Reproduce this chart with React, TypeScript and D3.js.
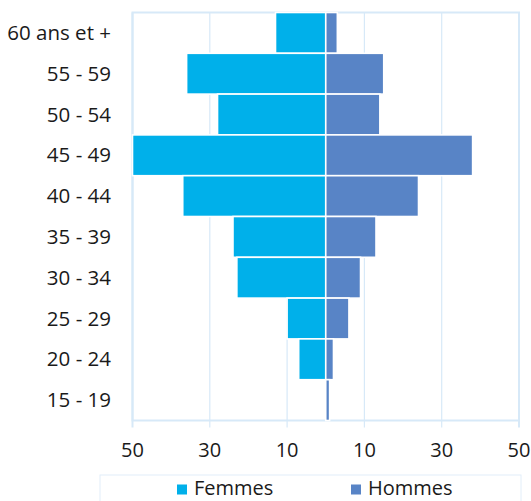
import React from "react";
import * as d3 from "d3";

// Age groups, top to bottom
const ageGroups = [
  "60 ans et +",
  "55 - 59",
  "50 - 54",
  "45 - 49",
  "40 - 44",
  "35 - 39",
  "30 - 34",
  "25 - 29",
  "20 - 24",
  "15 - 19",
];

// Values per age group
const femmes = [13, 36, 28, 50, 37, 24, 23, 10, 7, 0];
const hommes = [3, 15, 14, 38, 24, 13, 9, 6, 2, 1];

// Axis ticks (signed positions, labels shown as absolute values)
const xTicks = [-50, -30, -10, 10, 30, 50];

const seriesNames = ["Femmes", "Hommes"];
const seriesColors = ["#00B0EA", "#5884C6"];

const WIDTH = 531;
const HEIGHT = 501;
const FONT = "'Open Sans', 'Noto Sans', sans-serif";
const GRID = "#D7E9F8";
const TEXT = "#1a1a1a";

export default function App() {
  const plot = { left: 132.5, right: 519, top: 12.5, bottom: 420.5 };

  const x = d3.scaleLinear().domain([-50, 50]).range([plot.left, plot.right]);
  const y = d3
    .scaleBand<string>()
    .domain(ageGroups)
    .range([plot.top, plot.bottom])
    .padding(0);

  const x0 = x(0);

  return (
    <svg
      width={WIDTH}
      height={HEIGHT}
      style={{ position: "absolute", left: 0, top: 0, background: "#fff" }}
      fontFamily={FONT}
    >
      {/* grid lines with tick marks below the plot */}
      {xTicks.map((t) => (
        <line
          key={"g" + t}
          x1={x(t)}
          x2={x(t)}
          y1={plot.top}
          y2={plot.bottom + 7}
          stroke={GRID}
          strokeWidth={t === -50 || t === 50 ? 2 : 1.2}
        />
      ))}
      {/* plot frame */}
      <rect
        x={plot.left}
        y={plot.top}
        width={plot.right - plot.left}
        height={plot.bottom - plot.top}
        fill="none"
        stroke={GRID}
        strokeWidth={2}
      />

      {/* Femmes bars (left) */}
      {ageGroups.map((g, i) =>
        femmes[i] > 0 ? (
          <rect
            key={"f" + g}
            x={x(-femmes[i])}
            y={y(g)}
            width={x0 - x(-femmes[i])}
            height={y.bandwidth()}
            fill={seriesColors[0]}
            stroke="#fff"
            strokeWidth={1.6}
          />
        ) : null
      )}
      {/* Hommes bars (right) */}
      {ageGroups.map((g, i) =>
        hommes[i] > 0 ? (
          <rect
            key={"h" + g}
            x={x0}
            y={y(g)}
            width={x(hommes[i]) - x0}
            height={y.bandwidth()}
            fill={seriesColors[1]}
            stroke="#fff"
            strokeWidth={1.6}
          />
        ) : null
      )}

      {/* category labels */}
      {ageGroups.map((g) => (
        <text
          key={"l" + g}
          x={111}
          y={(y(g) as number) + y.bandwidth() / 2}
          dy="0.35em"
          textAnchor="end"
          fontSize={20.5}
          fill={TEXT}
        >
          {g}
        </text>
      ))}

      {/* x tick labels */}
      {xTicks.map((t) => (
        <text
          key={"t" + t}
          x={x(t)}
          y={457}
          textAnchor="middle"
          fontSize={20}
          fill={TEXT}
        >
          {Math.abs(t)}
        </text>
      ))}

      {/* legend */}
      <rect
        x={100}
        y={475}
        width={421}
        height={40}
        fill="#fff"
        stroke="#E2EEF9"
        strokeWidth={1}
      />
      {seriesNames.map((name, i) => {
        const lx = i === 0 ? 177 : 351;
        return (
          <g key={"lg" + name}>
            <rect x={lx} y={484.5} width={10} height={10} fill={seriesColors[i]} />
            <text x={lx + 17} y={495} fontSize={20} fill={TEXT}>
              {name}
            </text>
          </g>
        );
      })}
    </svg>
  );
}
